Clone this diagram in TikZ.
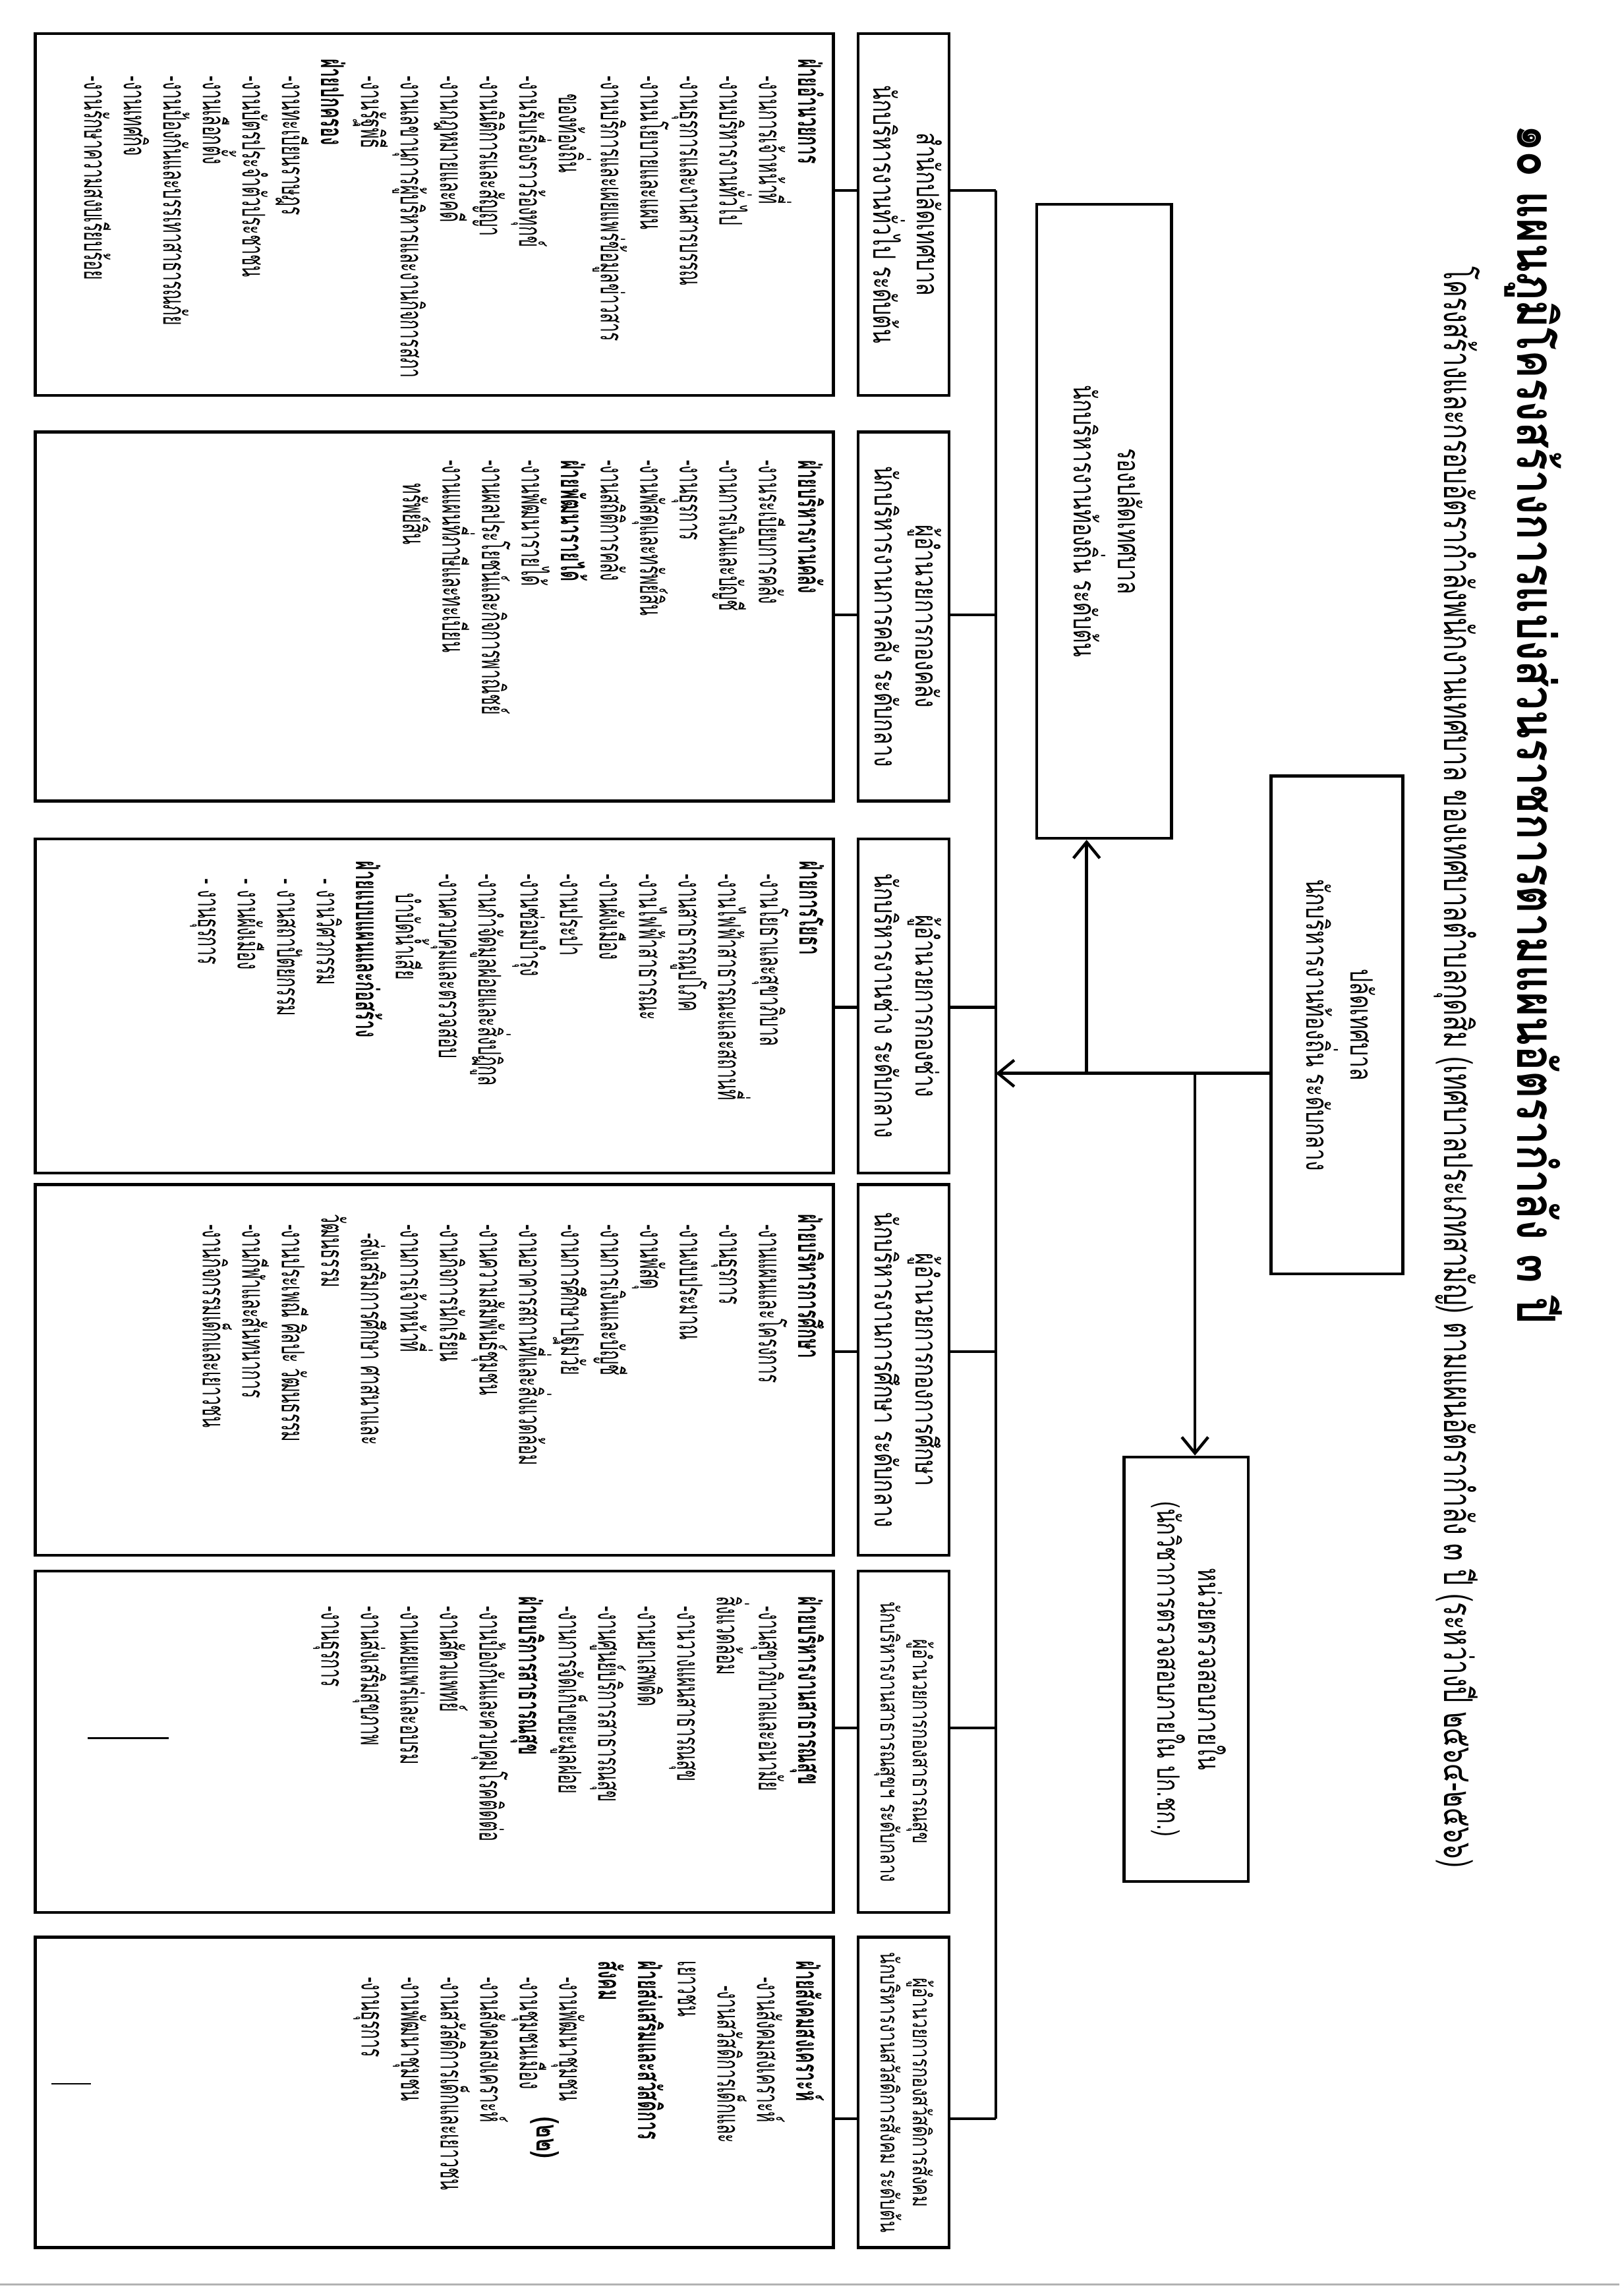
\documentclass[tikz,border=0pt]{standalone}
\usepackage{fontspec}
\setmainfont{Loma}[Script=Thai,FakeStretch=0.68]
\newfontfamily\bodyfont{Loma}[Script=Thai,FakeStretch=0.52]
\newfontfamily\titlefont{Loma}[Script=Thai,FakeStretch=0.8]
\newfontfamily\subfont{Loma}[Script=Thai,FakeStretch=0.64]
\usetikzlibrary{positioning,arrows.meta}

\newcommand{\vt}[1]{\rotatebox{-90}{\begin{tabular}{@{}c@{}}#1\end{tabular}}}
\newcommand{\fy}[1]{\textbf{#1}}
\newcommand{\ind}[1]{\hspace*{#1pt}}

\tikzset{
  box/.style={draw, line width=2pt, inner sep=0pt},
  conn/.style={line width=2pt},
  body/.style={rotate=-90, anchor=north west, align=left, inner sep=0pt,
    font=\bodyfont\fontsize{21.5}{27}\selectfont},
  head/.style={box, minimum width=62pt, font=\fontsize{21}{28}\selectfont},
  part/.style={box, minimum width=545pt},
}

\begin{document}
\begin{tikzpicture}[x=1pt, y=-1pt, >={Straight Barb[length=11pt,width=18pt]}]
\useasboundingbox (0,0) rectangle (1106,1568);

% หัวเรื่อง
\node[rotate=-90, anchor=west, inner sep=0pt,
  font=\titlefont\bfseries\fontsize{36}{40}\selectfont] (title) at (1047,85)
  {๑๐ แผนภูมิโครงสร้างการแบ่งส่วนราชการตามแผนอัตรากำลัง ๓ ปี};
\node[rotate=-90, anchor=west, inner sep=0pt,
  font=\subfont\fontsize{27}{32}\selectfont] (subtitle) at (995,182)
  {โครงสร้างและกรอบอัตรากำลังพนักงานเทศบาล ของเทศบาลตำบลกุดสิม (เทศบาลประเภทสามัญ) ตามแผนอัตรากำลัง ๓ ปี (ระหว่างปี ๒๕๖๔-๒๕๖๖)};

% ผู้บริหาร
\node[box, minimum width=90pt, minimum height=340pt, font=\fontsize{21}{28}\selectfont]
  (pl) at (913,700) {\vt{ปลัดเทศบาล\\นักบริหารงานท้องถิ่น ระดับกลาง}};
\node[box, minimum width=92pt, minimum height=433pt, font=\fontsize{21}{28}\selectfont]
  (rp) at (754,356) {\vt{รองปลัดเทศบาล\\นักบริหารงานท้องถิ่น ระดับต้น}};
\node[box, minimum width=85pt, minimum height=290pt, font=\fontsize{21}{28}\selectfont]
  (nw) at (810,1140) {\vt{หน่วยตรวจสอบภายใน\\(นักวิชาการตรวจสอบภายใน ปก.ชก.)}};

\coordinate (jn) at (680,733);
\coordinate (ja) at (742,733);
\coordinate (jb) at (816,733);
\draw[conn, ->] (pl.west |- jn) -- (jn);
\draw[conn, ->] (ja) -- (ja |- rp.south);
\draw[conn, ->] (jb) -- (jb |- nw.north);

% หัวกอง
\node[head, minimum height=247pt] (hd1) at (617,146.5)
  {\vt{สำนักปลัดเทศบาล\\นักบริหารงานทั่วไป ระดับต้น}};
\node[head, minimum height=252pt] (hd2) at (617,421)
  {\vt{ผู้อำนวยการกองคลัง\\นักบริหารงานการคลัง ระดับกลาง}};
\node[head, minimum height=228pt] (hd3) at (617,687)
  {\vt{ผู้อำนวยการกองช่าง\\นักบริหารงานช่าง ระดับกลาง}};
\node[head, minimum height=253pt] (hd4) at (617,935.5)
  {\vt{ผู้อำนวยการกองการศึกษา\\นักบริหารงานการศึกษา ระดับกลาง}};
\node[head, minimum height=233pt, font=\fontsize{17}{22}\selectfont] (hd5) at (617,1189.5)
  {\vt{ผู้อำนวยการกองสาธารณสุข\\นักบริหารงานสาธารณสุขฯ ระดับกลาง}};
\node[head, minimum height=212pt, font=\fontsize{17}{22}\selectfont] (hd6) at (617,1429)
  {\vt{ผู้อำนวยการกองสวัสดิการสังคม\\นักบริหารงานสวัสดิการสังคม ระดับต้น}};

% กรอบงาน
\node[part, minimum height=247pt] (cb1) at (296.5,146.5) {};
\node[part, minimum height=252pt] (cb2) at (296.5,421) {};
\node[part, minimum height=228pt] (cb3) at (296.5,687) {};
\node[part, minimum height=253pt] (cb4) at (296.5,935.5) {};
\node[part, minimum height=233pt] (cb5) at (296.5,1189.5) {};
\node[part, minimum height=212pt] (cb6) at (296.5,1429) {};

% เส้นแนวนอน (bus)
\coordinate (b1) at (680,130);
\coordinate (b2) at (680,420);
\coordinate (b3) at (680,688);
\coordinate (b4) at (680,923);
\coordinate (b5) at (680,1180);
\coordinate (b6) at (680,1447);
\draw[conn] (b1) -- (b6);
\foreach \i in {1,...,6}{
  \draw[conn] (b\i) -- (b\i -| hd\i.east);
  \draw[conn] (b\i -| cb\i.east) -- (b\i -| hd\i.west);
}

% งานในแต่ละกอง
\node[body] (tx1) at (563,40) {\fy{ฝ่ายอำนวยการ}\\
\ind{12}-งานการเจ้าหน้าที่\\
\ind{12}-งานบริหารงานทั่วไป\\
\ind{12}-งานธุรการและงานสารบรรณ\\
\ind{12}-งานนโยบายและแผน\\
\ind{12}-งานบริการและเผยแพร่ข้อมูลข่าวสาร\\
\ind{24}ของท้องถิ่น\\
\ind{12}-งานรับเรื่องราวร้องทุกข์\\
\ind{12}-งานนิติการและสัญญา\\
\ind{12}-งานกฎหมายและคดี\\
\ind{12}-งานเลขานุการผู้บริหารและงานกิจการสภา\\
\ind{12}-งานรัฐพิธี\\
\fy{ฝ่ายปกครอง}\\
\ind{12}-งานทะเบียนราษฎร\\
\ind{12}-งานบัตรประจำตัวประชาชน\\
\ind{12}-งานเลือกตั้ง\\
\ind{12}-งานป้องกันและบรรเทาสาธารณภัย\\
\ind{12}-งานเทศกิจ\\
\ind{12}-งานรักษาความสงบเรียบร้อย};

\node[body] (tx2) at (563,314) {\fy{ฝ่ายบริหารงานคลัง}\\
-งานระเบียบการคลัง\\
-งานการเงินและบัญชี\\
-งานธุรการ\\
-งานพัสดุและทรัพย์สิน\\
-งานสถิติการคลัง\\
\fy{ฝ่ายพัฒนารายได้}\\
-งานพัฒนารายได้\\
-งานผลประโยชน์และกิจการพาณิชย์\\
-งานแผนที่ภาษีและทะเบียน\\
\ind{16}ทรัพย์สิน};

\node[body] (tx3) at (563,588) {\fy{ฝ่ายการโยธา}\\
\ind{9}-งานโยธาและสุขาภิบาล\\
\ind{9}-งานไฟฟ้าสาธารณะและสถานที่\\
\ind{9}-งานสาธารณูปโภค\\
\ind{9}-งานไฟฟ้าสาธารณะ\\
\ind{9}-งานผังเมือง\\
\ind{9}-งานประปา\\
\ind{9}-งานซ่อมบำรุง\\
\ind{9}-งานกำจัดมูลฝอยและสิ่งปฏิกูล\\
\ind{9}-งานควบคุมและตรวจสอบ\\
\ind{22}บำบัดน้ำเสีย\\
\fy{ฝ่ายแบบแผนและก่อสร้าง}\\
\ind{12}- งานวิศวกรรม\\
\ind{12}- งานสถาปัตยกรรม\\
\ind{12}- งานผังเมือง\\
\ind{12}- งานธุรการ};

\node[body] (tx4) at (563,829) {\fy{ฝ่ายบริหารการศึกษา}\\
\ind{7}-งานแผนและโครงการ\\
\ind{7}-งานธุรการ\\
\ind{7}-งานงบประมาณ\\
\ind{7}-งานพัสดุ\\
\ind{7}-งานการเงินและบัญชี\\
\ind{7}-งานการศึกษาปฐมวัย\\
\ind{7}-งานอาคารสถานที่และสิ่งแวดล้อม\\
\ind{7}-งานความสัมพันธ์ชุมชน\\
\ind{7}-งานกิจการนักเรียน\\
\ind{7}-งานการเจ้าหน้าที่\\
\ind{13}-ส่งเสริมการศึกษา ศาสนาและ\\
วัฒนธรรม\\
\ind{7}-งานประเพณี ศิลปะ วัฒนธรรม\\
\ind{7}-งานกีฬาและสันทนาการ\\
\ind{7}-งานกิจกรรมเด็กและเยาวชน};

\node[body] (tx5) at (563,1090) {\fy{ฝ่ายบริหารงานสาธารณสุข}\\
\ind{7}-งานสุขาภิบาลและอนามัย\\
สิ่งแวดล้อม\\
\ind{7}-งานวางแผนสาธารณสุข\\
\ind{7}-งานยาเสพติด\\
\ind{7}-งานศูนย์บริการสาธารณสุข\\
\ind{7}-งานการจัดเก็บขยะมูลฝอย\\
\fy{ฝ่ายบริการสาธารณสุข}\\
\ind{7}-งานป้องกันและควบคุมโรคติดต่อ\\
\ind{7}-งานสัตวแพทย์\\
\ind{7}-งานเผยแพร่และอบรม\\
\ind{7}-งานส่งเสริมสุขภาพ\\
\ind{7}-งานธุรการ};

\node[body] (tx6) at (563,1339) {\fy{ฝ่ายสังคมสงเคราะห์}\\
\ind{11}-งานสังคมสงเคราะห์\\
\ind{17}-งานสวัสดิการเด็กและ\\
เยาวชน\\
\fy{ฝ่ายส่งเสริมและสวัสดิการ}\\
\fy{สังคม}\\
\ind{11}-งานพัฒนาชุมชน\\
\ind{11}-งานชุมชนเมือง\\
\ind{11}-งานสังคมสงเคราะห์\\
\ind{11}-งานสวัสดิการเด็กและเยาวชน\\
\ind{11}-งานพัฒนาชุมชน\\
\ind{11}-งานธุรการ};

\node[rotate=-90, inner sep=0pt, font=\bfseries\fontsize{21}{24}\selectfont]
  (pg) at (372,1460) {(๒๒)};

% เส้นเล็ก ๆ จากต้นฉบับ
\draw[line width=1pt] (60,1187) -- (115,1187);
\draw[line width=1pt] (35,1423) -- (62,1423);
\draw[gray!60, line width=1.5pt] (0,1560) -- (1106,1560);
\end{tikzpicture}
\end{document}
